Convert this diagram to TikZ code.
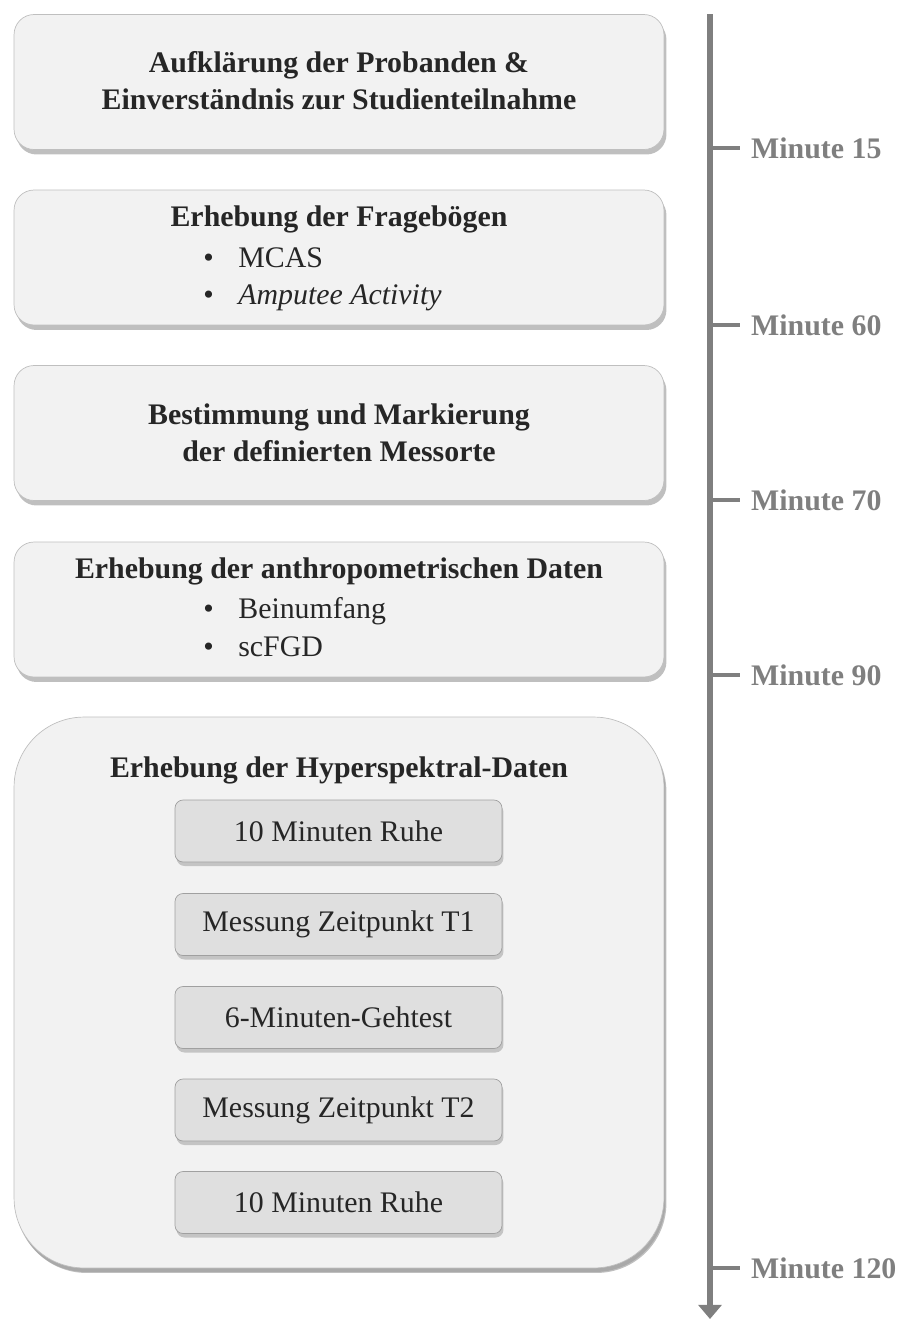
\documentclass[tikz,border=0pt]{standalone}
\usepackage{fontspec}
\setmainfont{Liberation Serif}
\usetikzlibrary{shadows,arrows.meta}

\definecolor{boxfill}{HTML}{F2F2F2}
\definecolor{boxline}{HTML}{BFBFBF}
\definecolor{stepfill}{HTML}{DFDFDF}
\definecolor{stepline}{HTML}{A0A0A0}
\definecolor{axisgray}{HTML}{7F7F7F}
\definecolor{textdark}{HTML}{262626}

\tikzset{
  phase/.style={draw=boxline, fill=boxfill, rounded corners=0.4cm,
    minimum width=13cm, minimum height=2.7cm,
    drop shadow={shadow xshift=0.5mm, shadow yshift=-1mm, opacity=0.5}},
  bigphase/.style={phase, rounded corners=1.4cm, minimum height=11.02cm,
    drop shadow={shadow xshift=0.3mm, shadow yshift=-0.8mm, opacity=0.35}},
  stepbox/.style={draw=stepline, fill=stepfill, rounded corners=0.16cm,
    minimum width=6.54cm, minimum height=1.24cm, text=textdark,
    drop shadow={shadow xshift=0.3mm, shadow yshift=-0.8mm, opacity=0.4}},
  title/.style={text=textdark, font=\fontsize{17}{21}\selectfont\bfseries, align=center},
  item/.style={text=textdark, anchor=base west, inner sep=0pt},
  minute/.style={text=axisgray, anchor=west, font=\fontsize{17}{21}\selectfont\bfseries},
}

\begin{document}
\begin{tikzpicture}[x=0.02cm, y=-0.02cm, font=\fontsize{17}{21}\selectfont]
    \useasboundingbox (0,0) rectangle (898,1319);
    % phases
    \node[phase] (aufkl) at (339,82) {};
    \node[phase] (frage) at (339,257.5) {};
    \node[phase] (mess) at (339,433) {};
    \node[phase] (anthro) at (339,609.5) {};
    \node[bigphase] (hyper) at (339,992.5) {};

    \node[title] (aufkltext) at (339,81) {Aufklärung der Probanden \&\\Einverständnis zur Studienteilnahme};

    \node[title] (fragetext) at (339,219) {Erhebung der Fragebögen};
    \node[item] (mcas) at (203,267) {\makebox[0.7cm][l]{\textbullet}MCAS};
    \node[item] (amp) at (203,304) {\makebox[0.7cm][l]{\textbullet}\textit{Amputee Activity}};

    \node[title] (messtext) at (339,433) {Bestimmung und Markierung\\der definierten Messorte};

    \node[title] (anthrotext) at (339,571) {Erhebung der anthropometrischen Daten};
    \node[item] (bein) at (203,618) {\makebox[0.7cm][l]{\textbullet}Beinumfang};
    \node[item] (scfgd) at (203,656) {\makebox[0.7cm][l]{\textbullet}scFGD};

    \node[title] (hypertext) at (339,770) {Erhebung der Hyperspektral-Daten};
    \node[stepbox] (ruhe1) at (338.5,831) {10 Minuten Ruhe};
    \node[stepbox] (t1) at (338.5,924.5) {Messung Zeitpunkt T1};
    \node[stepbox] (geh) at (338.5,1017.5) {6-Minuten-Gehtest};
    \node[stepbox] (t2) at (338.5,1110) {Messung Zeitpunkt T2};
    \node[stepbox] (ruhe2) at (338.5,1202.5) {10 Minuten Ruhe};

    % time axis
    \coordinate (start) at (710,14);
    \coordinate (end) at (710,1319);
    \draw[axisgray, line width=3.4pt, -{Triangle[length=8pt,width=13pt]}] (start) -- (end);
    \foreach \y/\m in {148/15, 325/60, 500/70, 675/90, 1268/120} {
        \draw[axisgray, line width=1.8pt] (710,\y) -- (740,\y);
        \node[minute] (min\m) at (745,\y) {Minute \m};
    }
\end{tikzpicture}
\end{document}
